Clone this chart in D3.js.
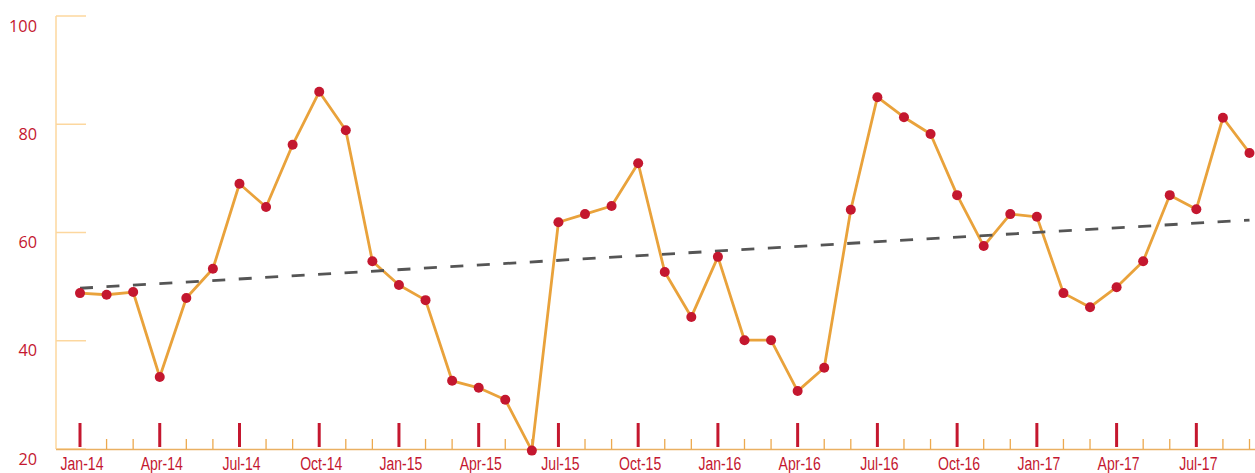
<!DOCTYPE html>
<html>
<head>
<meta charset="utf-8">
<script src="https://cdn.jsdelivr.net/npm/d3@7"></script>
<style>
html,body{margin:0;padding:0;background:#fff;}
svg{display:block;}
</style>
</head>
<body>
<svg id="chart" width="1255" height="473"></svg>
<script>
const months = [
 "Jan-14","Feb-14","Mar-14","Apr-14","May-14","Jun-14","Jul-14","Aug-14","Sep-14","Oct-14","Nov-14","Dec-14",
 "Jan-15","Feb-15","Mar-15","Apr-15","May-15","Jun-15","Jul-15","Aug-15","Sep-15","Oct-15","Nov-15","Dec-15",
 "Jan-16","Feb-16","Mar-16","Apr-16","May-16","Jun-16","Jul-16","Aug-16","Sep-16","Oct-16","Nov-16","Dec-16",
 "Jan-17","Feb-17","Mar-17","Apr-17","May-17","Jun-17","Jul-17","Aug-17","Sep-17"
];
const values = [
 48.8,48.5,49.0,33.3,47.9,53.3,69.0,64.7,76.2,86.0,78.9,54.7,
 50.3,47.5,32.6,31.3,29.1,19.7,61.9,63.4,64.9,72.8,52.7,44.4,
 55.5,40.1,40.1,30.7,35.0,64.2,85.0,81.3,78.2,66.9,57.5,63.4,
 62.9,48.8,46.2,49.9,54.7,66.9,64.3,81.2,74.7
];
const xTickLabels = ["Jan-14","Apr-14","Jul-14","Oct-14","Jan-15","Apr-15","Jul-15","Oct-15","Jan-16","Apr-16","Jul-16","Oct-16","Jan-17","Apr-17","Jul-17"];
const yTickValues = [20,40,60,80,100];
const trendMonths = ["Jan-14","Sep-17"];
const trendValues = [49.7,62.3];

const svg = d3.select("#chart");
const RED = "#c4172f";
const ORANGE = "#e9a23b";

const x = d3.scalePoint().domain(months).range([80, 1249.5]);
const y = d3.scaleLinear().domain([20,100]).range([449, 16]);

// Y axis
svg.append("line").attr("x1",56).attr("x2",56).attr("y1",y(100)).attr("y2",y(20))
  .attr("stroke","#fcd79e").attr("stroke-width",1.5);
svg.selectAll(".ytick").data(yTickValues).join("line").attr("class","ytick")
  .attr("x1",56).attr("x2",86).attr("y1",d=>y(d)).attr("y2",d=>y(d))
  .attr("stroke","#fcd79e").attr("stroke-width",1.5);
svg.selectAll(".ylab").data(yTickValues).join("text").attr("class","ylab")
  .attr("x",37).attr("y",d=>y(d)+15.5).attr("text-anchor","end")
  .attr("font-family","'Open Sans', sans-serif").attr("font-size",16.3)
  .attr("fill",RED).text(d=>d);

// X axis
svg.append("line").attr("x1",56).attr("x2",1255).attr("y1",449.5).attr("y2",449.5)
  .attr("stroke","#eab062").attr("stroke-width",1.5);
const minor = months.filter(m=>!xTickLabels.includes(m));
svg.selectAll(".minor").data(minor).join("line").attr("class","minor")
  .attr("x1",d=>x(d)).attr("x2",d=>x(d)).attr("y1",439).attr("y2",449)
  .attr("stroke","#eca94e").attr("stroke-width",1.3);
svg.selectAll(".major").data(xTickLabels).join("line").attr("class","major")
  .attr("x1",d=>x(d)).attr("x2",d=>x(d)).attr("y1",423).attr("y2",447)
  .attr("stroke",RED).attr("stroke-width",3);
svg.selectAll(".xlab").data(xTickLabels).join("text").attr("class","xlab")
  .attr("transform",d=>`translate(${x(d)+2},469.5) scale(0.78,1)`)
  .attr("text-anchor","middle")
  .attr("font-family","'Liberation Sans', Arial, sans-serif").attr("font-size",18)
  .attr("fill",RED).text(d=>d);

// data line
const data = months.map((m,i)=>({m, v:values[i]}));
svg.append("path").datum(data)
  .attr("d", d3.line().x(d=>x(d.m)).y(d=>y(d.v)))
  .attr("fill","none").attr("stroke",ORANGE).attr("stroke-width",2.8).attr("stroke-linejoin","round");

// trend line
svg.append("path").datum(trendMonths.map((m,i)=>({m, v:trendValues[i]})))
  .attr("d", d3.line().x(d=>x(d.m)).y(d=>y(d.v)))
  .attr("fill","none").attr("stroke","#555555").attr("stroke-width",2.8).attr("stroke-dasharray","13,13.5");

// dots
svg.selectAll(".dot").data(data).join("circle").attr("class","dot")
  .attr("cx",d=>x(d.m)).attr("cy",d=>y(d.v)).attr("r",5).attr("fill",RED);
</script>
</body>
</html>
